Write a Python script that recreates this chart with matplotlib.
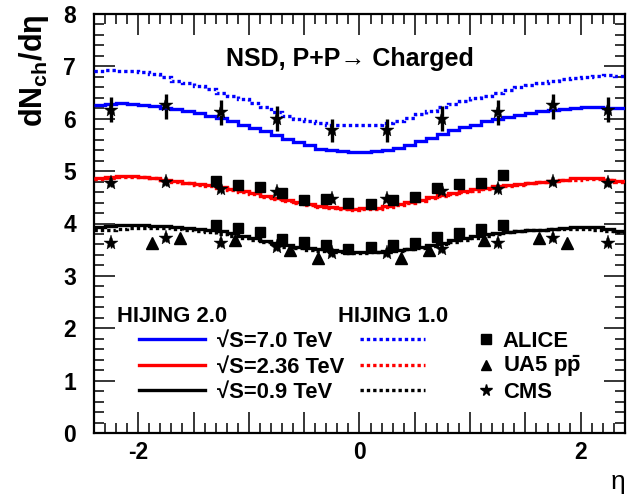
import numpy as np
import matplotlib
matplotlib.use("Agg")
import matplotlib.pyplot as plt
from matplotlib.ticker import MultipleLocator, FuncFormatter

plt.rcParams['font.family'] = ['Liberation Sans', 'DejaVu Sans']
plt.rcParams['mathtext.fontset'] = 'custom'
plt.rcParams['mathtext.rm'] = 'Liberation Sans'
plt.rcParams['mathtext.bf'] = 'Liberation Sans:bold'
plt.rcParams['mathtext.it'] = 'Liberation Sans:italic'

# ---------------- data ----------------
eta_edges = np.round(np.arange(-2.4, 2.4001, 0.1), 2)

h20_7000 = [6.27, 6.29, 6.30, 6.29, 6.27, 6.24, 6.21, 6.18, 6.15, 6.11, 6.06, 6.01,
            5.95, 5.89, 5.83, 5.76, 5.69, 5.62, 5.55, 5.49, 5.43, 5.40, 5.38, 5.37,
            5.37, 5.38, 5.41, 5.45, 5.50, 5.57, 5.64, 5.71, 5.78, 5.84, 5.89, 5.95,
            6.00, 6.04, 6.08, 6.11, 6.14, 6.16, 6.19, 6.21, 6.22, 6.22, 6.21, 6.20]
h10_7000 = [6.92, 6.93, 6.92, 6.91, 6.89, 6.85, 6.80, 6.73, 6.68, 6.62, 6.57, 6.50,
            6.44, 6.37, 6.30, 6.22, 6.12, 6.06, 6.00, 5.95, 5.91, 5.89, 5.88, 5.88,
            5.88, 5.89, 5.91, 5.96, 6.02, 6.09, 6.15, 6.22, 6.28, 6.34, 6.39, 6.44,
            6.49, 6.55, 6.60, 6.64, 6.68, 6.72, 6.75, 6.78, 6.80, 6.82, 6.83, 6.82]
h20_2360 = [4.87, 4.89, 4.90, 4.91, 4.89, 4.87, 4.84, 4.81, 4.78, 4.76, 4.73, 4.70,
            4.66, 4.62, 4.58, 4.53, 4.49, 4.45, 4.41, 4.37, 4.34, 4.31, 4.29, 4.28,
            4.29, 4.30, 4.33, 4.37, 4.41, 4.45, 4.50, 4.54, 4.58, 4.62, 4.65, 4.68,
            4.71, 4.74, 4.76, 4.78, 4.80, 4.82, 4.84, 4.86, 4.87, 4.86, 4.84, 4.81]
h10_2360 = [4.85, 4.87, 4.89, 4.89, 4.88, 4.86, 4.83, 4.80, 4.77, 4.74, 4.71, 4.68,
            4.64, 4.60, 4.56, 4.51, 4.47, 4.43, 4.39, 4.35, 4.32, 4.29, 4.27, 4.26,
            4.27, 4.28, 4.31, 4.35, 4.39, 4.43, 4.48, 4.52, 4.56, 4.60, 4.63, 4.66,
            4.69, 4.72, 4.74, 4.77, 4.79, 4.81, 4.83, 4.84, 4.85, 4.85, 4.83, 4.80]
h20_900 = [3.94, 3.95, 3.97, 3.98, 3.97, 3.96, 3.95, 3.94, 3.92, 3.90, 3.88, 3.86,
           3.82, 3.77, 3.72, 3.67, 3.62, 3.58, 3.55, 3.53, 3.51, 3.49, 3.47, 3.46,
           3.45, 3.45, 3.47, 3.49, 3.52, 3.56, 3.59, 3.63, 3.68, 3.72, 3.76, 3.79,
           3.82, 3.84, 3.86, 3.87, 3.88, 3.89, 3.91, 3.93, 3.94, 3.93, 3.90, 3.86]
h10_900 = [3.87, 3.88, 3.90, 3.91, 3.92, 3.92, 3.91, 3.90, 3.88, 3.86, 3.83, 3.80,
           3.76, 3.72, 3.68, 3.64, 3.60, 3.56, 3.53, 3.50, 3.48, 3.46, 3.45, 3.44,
           3.44, 3.45, 3.46, 3.48, 3.51, 3.54, 3.57, 3.61, 3.65, 3.69, 3.73, 3.77,
           3.80, 3.83, 3.85, 3.87, 3.88, 3.89, 3.90, 3.90, 3.89, 3.88, 3.86, 3.84]

cms_eta = [-2.25, -1.75, -1.25, -0.75, -0.25, 0.25, 0.75, 1.25, 1.75, 2.25]
cms_7000 = [6.17, 6.26, 6.13, 6.00, 5.78, 5.78, 6.00, 6.13, 6.26, 6.17]
cms_7000_err = [0.24, 0.26, 0.24, 0.24, 0.22, 0.22, 0.24, 0.24, 0.26, 0.24]
cms_2360 = [4.78, 4.80, 4.65, 4.60, 4.47, 4.47, 4.62, 4.65, 4.80, 4.78]
cms_900 = [3.62, 3.73, 3.63, 3.55, 3.44, 3.44, 3.52, 3.62, 3.73, 3.62]
cms_small_err = 0.08

alice_eta = [-1.3, -1.1, -0.9, -0.7, -0.5, -0.3, -0.1, 0.1, 0.3, 0.5, 0.7, 0.9, 1.1, 1.3]
alice_2360 = [4.81, 4.73, 4.70, 4.58, 4.45, 4.46, 4.40, 4.37, 4.45, 4.51, 4.67, 4.75, 4.78, 4.93]
alice_900 = [3.97, 3.91, 3.83, 3.70, 3.65, 3.59, 3.52, 3.56, 3.59, 3.62, 3.75, 3.81, 3.89, 3.97]
alice_err = 0.06

ua5_eta = [-1.875, -1.625, -1.125, -0.625, -0.375, 0.375, 0.625, 1.125, 1.625, 1.875]
ua5_900 = [3.63, 3.73, 3.68, 3.49, 3.35, 3.35, 3.50, 3.68, 3.73, 3.63]

# ---------------- figure ----------------
fig = plt.figure(figsize=(6.42, 5.0), dpi=100)
ax = fig.add_axes([0.1464, 0.134, 0.8271, 0.838])

BLUE, RED, BLACK = '#0000ff', '#ff0000', '#000000'
dot = (0, (1.0, 0.9))

for vals, c, ls in ((h20_7000, BLUE, '-'), (h10_7000, BLUE, dot),
                    (h20_2360, RED, '-'), (h10_2360, RED, dot),
                    (h20_900, BLACK, '-'), (h10_900, BLACK, dot)):
    ax.stairs(vals, eta_edges, baseline=None, color=c, lw=2.4, ls=ls, zorder=3)

# CMS 7 TeV with large dashed error bars
ax.vlines(cms_eta, np.array(cms_7000) - np.array(cms_7000_err),
          np.array(cms_7000) + np.array(cms_7000_err),
          colors='black', lw=2.4, linestyles=(0, (3.0, 1.5)), zorder=4)
star_kw = dict(ls='none', marker='*', ms=11, mfc='black', mec='black', mew=0.3, zorder=5)
ax.plot(cms_eta, cms_7000, **star_kw)
for vals in (cms_2360, cms_900):
    ax.errorbar(cms_eta, vals, yerr=cms_small_err, fmt='none', ecolor='black',
                elinewidth=1.0, capsize=0, ls=(0, (2, 1.5)), zorder=4)
    ax.plot(cms_eta, vals, **star_kw)

for vals in (alice_2360, alice_900):
    ax.errorbar(alice_eta, vals, yerr=alice_err, fmt='none', ecolor='black',
                elinewidth=1.2, capsize=0, zorder=4)
    ax.plot(alice_eta, vals, ls='none', marker='s', ms=6.5, color='black', zorder=4)

ax.plot(ua5_eta, ua5_900, ls='none', marker='^', ms=8, color='black', zorder=4)

# ---------------- axes ----------------
ax.set_xlim(-2.4, 2.4)
ax.set_ylim(0, 8)
ax.xaxis.set_major_locator(MultipleLocator(0.5))
ax.xaxis.set_minor_locator(MultipleLocator(0.1))
ax.xaxis.set_major_formatter(FuncFormatter(
    lambda v, p: '%d' % round(v) if abs(v - round(v / 2) * 2) < 1e-6 else ''))
ax.yaxis.set_major_locator(MultipleLocator(1))
ax.yaxis.set_minor_locator(MultipleLocator(0.2))
ax.yaxis.set_major_formatter(FuncFormatter(lambda v, p: '%d' % round(v)))

for s in ax.spines.values():
    s.set_linewidth(1.6)
ax.tick_params(which='both', direction='in', top=True, right=True, width=1.1)
ax.tick_params(which='major', length=15)
ax.tick_params(which='minor', length=7.5)
ax.tick_params(axis='y', which='major', pad=13, labelsize=16.5)
ax.tick_params(axis='x', which='major', pad=6, labelsize=16.5)
for lab in ax.get_xticklabels() + ax.get_yticklabels():
    lab.set_fontweight('bold')

ax.set_ylabel(r'dN$_{\mathbf{ch}}$/dη', fontsize=22, fontweight='bold', loc='top',
              labelpad=9)
ax.set_xlabel('η', fontsize=19, loc='right', labelpad=4)

ax.text(0.482, 0.876, 'NSD, P+P→ Charged', transform=ax.transAxes, ha='center',
        va='baseline', fontsize=18, fontweight='bold')

# ---------------- legend ----------------
T = ax.transAxes
lfs = 15.8
ax.text(0.043, 0.264, 'HIJING 2.0', transform=T, fontsize=lfs, fontweight='bold',
        va='baseline')
ax.text(0.4595, 0.264, 'HIJING 1.0', transform=T, fontsize=lfs, fontweight='bold',
        va='baseline')
rows_line_y = [0.2243, 0.1623, 0.1026]
rows_base_y = [0.2064, 0.1444, 0.0847]
labels = ['√S=7.0 TeV', '√S=2.36 TeV', '√S=0.9 TeV']
colors = [BLUE, RED, BLACK]
for ly, by, lab, c in zip(rows_line_y, rows_base_y, labels, colors):
    ax.plot([0.0847, 0.209], [ly, ly], transform=T, color=c, lw=2.4, clip_on=False)
    ax.text(0.2316, by, lab, transform=T, fontsize=lfs, fontweight='bold',
            va='baseline')
    ax.plot([0.501, 0.623], [ly, ly], transform=T, color=c, lw=2.4, ls=dot,
            clip_on=False)
mk = ['s', '^', '*']
mks = [7, 7.5, 8.5]
mlabels = ['ALICE', r'UA5 p$\mathbf{\bar{p}}$', 'CMS']
for ly, by, m, ms, lab in zip(rows_line_y, rows_base_y, mk, mks, mlabels):
    ax.plot([0.738], [ly], transform=T, marker=m, ms=ms, color='black', ls='none',
            clip_on=False)
    ax.text(0.770, by, lab, transform=T, fontsize=lfs, fontweight='bold',
            va='baseline')

fig.savefig('out.png', dpi=100, facecolor='white')
